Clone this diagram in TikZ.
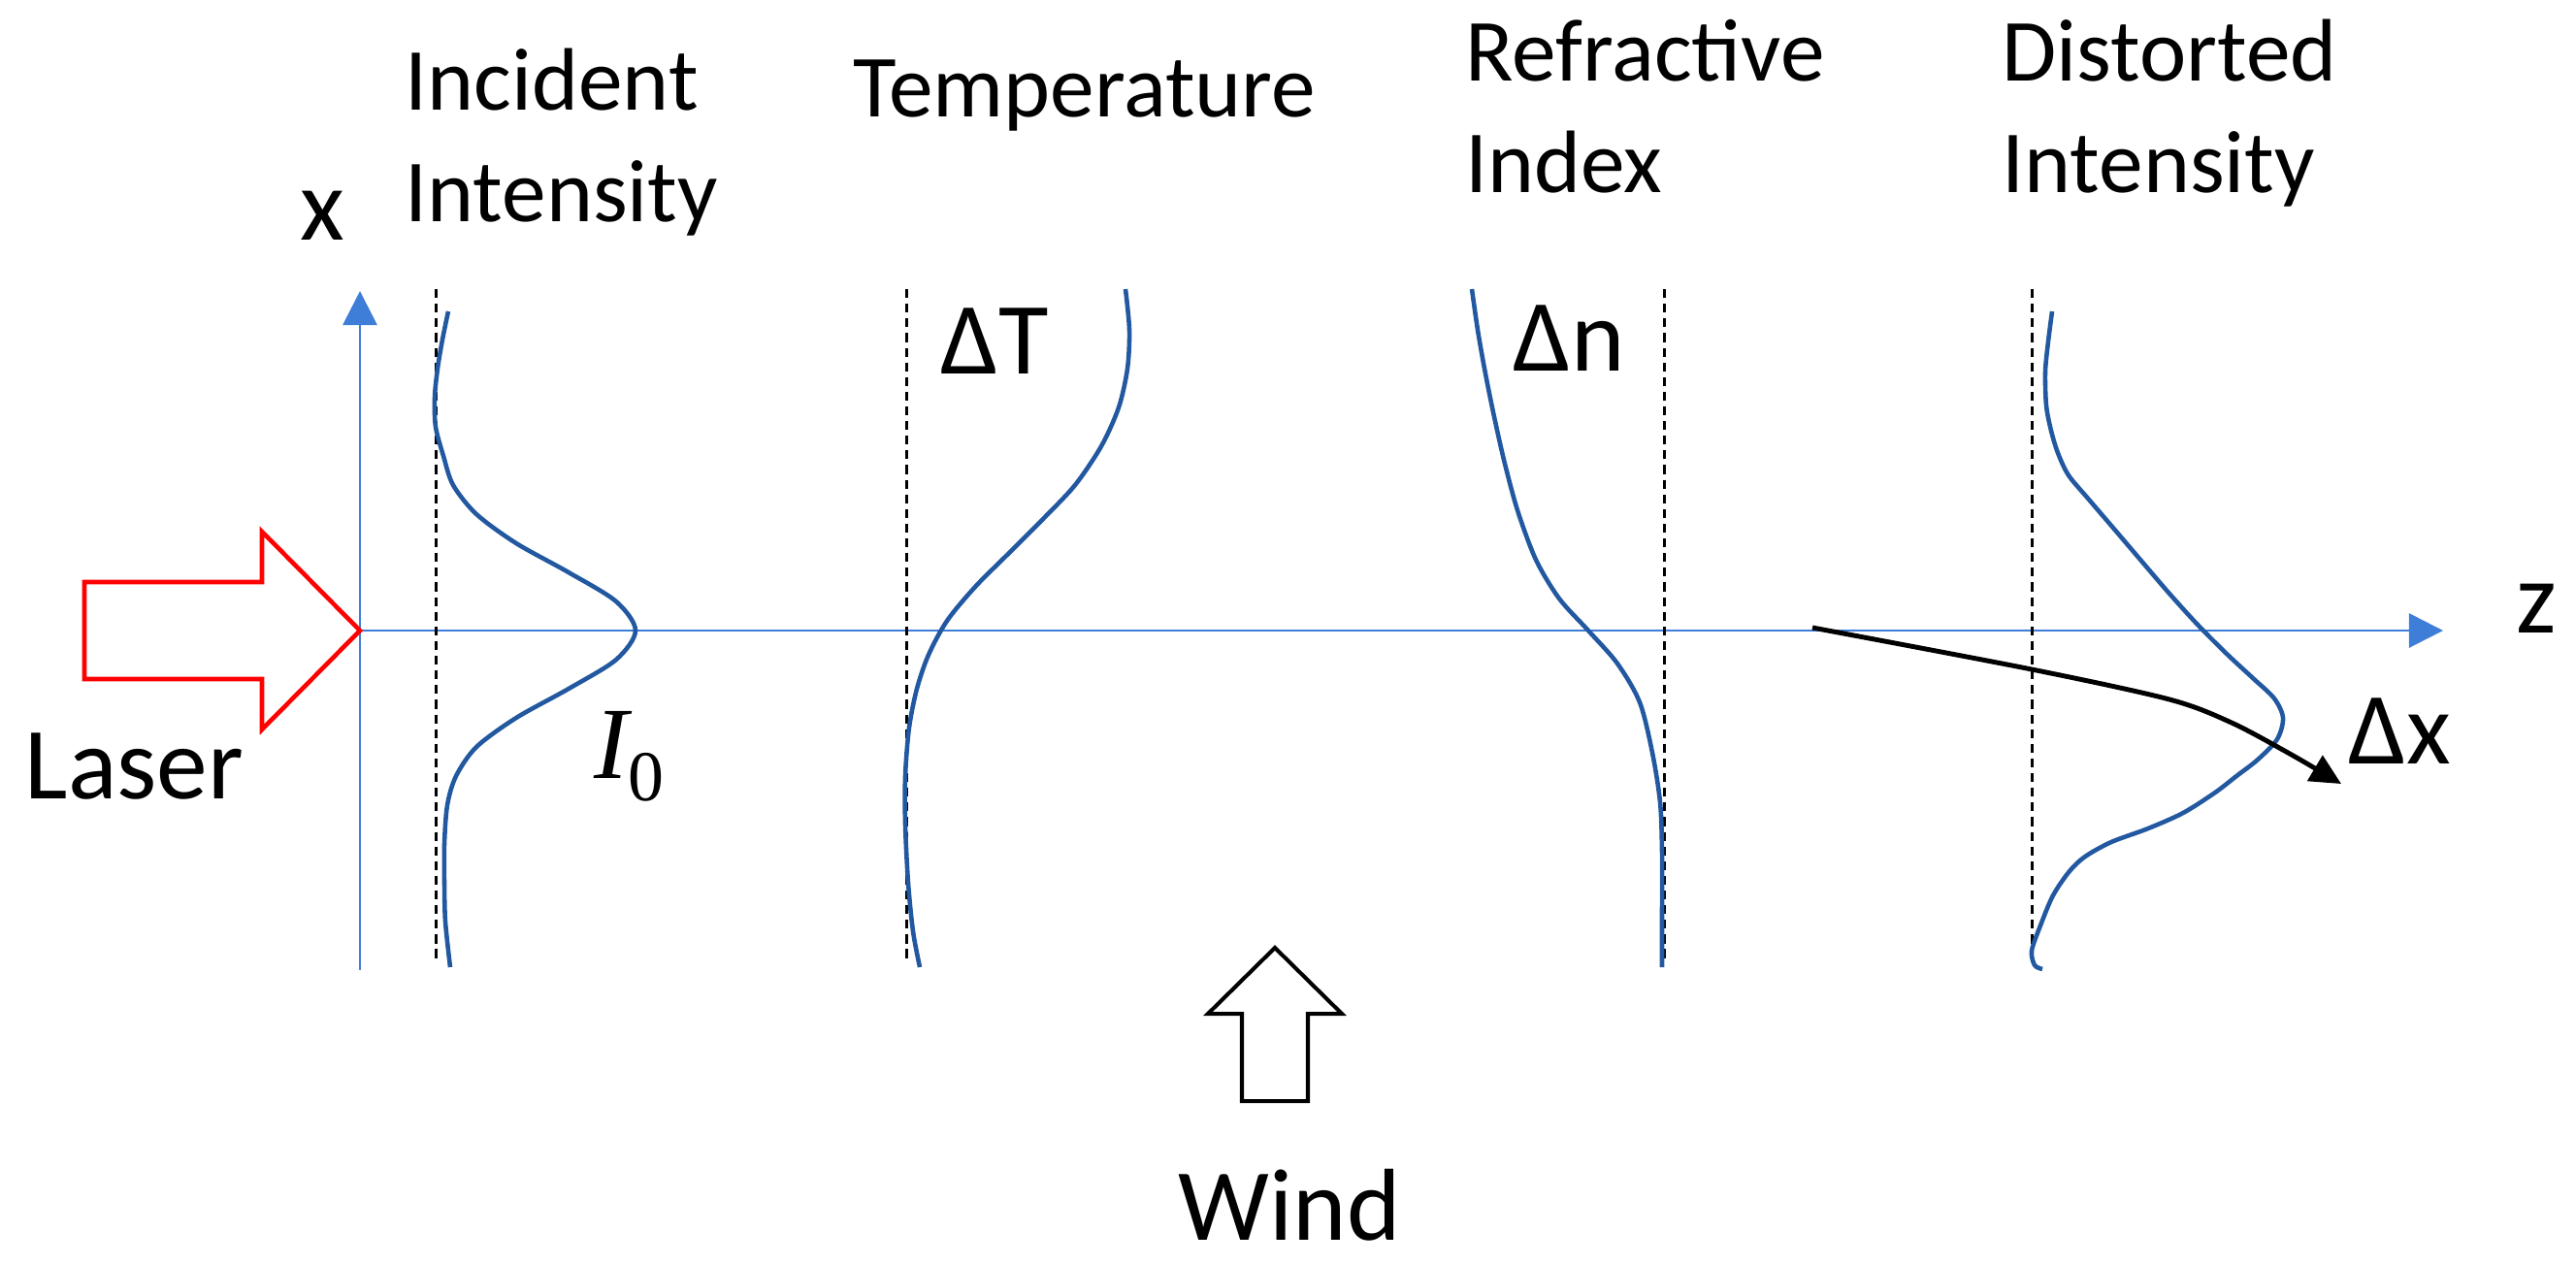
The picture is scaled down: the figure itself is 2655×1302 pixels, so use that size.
\documentclass[tikz,border=0pt]{standalone}
\usepackage{fontspec}
\setmainfont{Carlito}
\newfontfamily\symserif{Liberation Serif}
\usepackage{tikz}
\usetikzlibrary{arrows.meta}

\definecolor{axisblue}{RGB}{62,126,216}
\definecolor{curveblue}{RGB}{34,88,160}

\tikzset{
  axisline/.style={axisblue, line width=0.8pt, -{Triangle[length=10pt,width=10pt]}},
  profile/.style={curveblue, line width=1.3pt},
  guide/.style={black, line width=0.85pt, dash pattern=on 2.6pt off 1.7pt},
  bigarrow/.style={line width=1.3pt, line join=miter},
  heading/.style={font=\fontsize{26}{32.7}\selectfont, anchor=base west, inner sep=0pt, align=left},
  sym/.style={font=\fontsize{30}{36}\selectfont, anchor=base west, inner sep=0pt}
}

\begin{document}
\begin{tikzpicture}[x=0.01cm,y=-0.01cm]

\useasboundingbox (0,0) rectangle (2655,1302);

\coordinate (O) at (371,650);
\coordinate (xtip) at (371,300);
\coordinate (xfoot) at (371,1000);
\coordinate (ztip) at (2518,650);

\draw [axisline] (xfoot) -- (xtip);
\draw [axisline] (O) -- (ztip);
\node [sym] (xlab) at (309,247) {x};
\node [sym] (zlab) at (2593,652) {z};

\node [heading] (incident) at (417,228) {Incident\\Intensity};
\node [heading] (temperature) at (879,120) {Temperature};
\node [heading] (refractive) at (1510,198) {Refractive\\Index};
\node [heading] (distorted) at (2063,198) {Distorted\\Intensity};

\foreach \gx in {449,934,1715,2094}
  \draw [guide] (\gx,298) -- (\gx,992);

\draw [red, bigarrow] (87,600) -- (270,600) -- (270,548) -- (O) -- (270,752) -- (270,700) -- (87,700) -- cycle;
\node [sym] (laser) at (25,823) {Laser};

\draw [profile] plot [smooth] coordinates {(462,321) (456,350) (451,380) (448,410) (449,440) (457,470) (467,500) (491,530) (532,560) (586,590) (635,620) (655,650) (635,680) (586,710) (532,740) (491,770) (470,800) (461,830) (458,870) (458,910) (459,950) (464,997)};
\node [sym] (izero) at (612,802) {\symserif\itshape I\raisebox{-0.22em}{\upshape\fontsize{21}{24}\selectfont 0}};

\draw [profile] plot [smooth] coordinates {(1160,298) (1164,340) (1162,380) (1153,420) (1135,460) (1108,500) (1075,535) (1040,570) (1005,605) (976,640) (957,675) (945,710) (937,750) (933,800) (933,850) (936,910) (941,960) (948,997)};
\node [sym] (dT) at (969,385) {ΔT};

\draw [profile] plot [smooth] coordinates {(1517,298) (1523,340) (1530,380) (1539,425) (1550,474) (1564,526) (1583,577) (1607,617) (1637,650) (1667,684) (1690,724) (1703,776) (1711,827) (1713,878) (1713,940) (1713,997)};
\node [sym] (dn) at (1559,382) {Δn};

\draw [profile] plot [smooth] coordinates {(2115,321) (2111,352) (2108,383) (2109,418) (2114,444) (2121,467) (2132,490) (2153,515) (2177,543) (2206,577) (2236,612) (2266,645) (2296,675) (2323,700) (2344,720) (2353,740) (2347,762) (2327,783) (2305,800) (2283,817) (2250,838) (2214,854) (2176,868) (2149,883) (2133,898) (2116,923) (2103,954) (2094,980) (2097,995) (2105,999)};

\draw [line width=1.4pt, -{Triangle[length=9pt,width=8.5pt]}] plot [smooth] coordinates {(1868,647) (2094,690) (2236,721) (2300,745) (2360,777) (2413,808)};
\node [sym] (dx) at (2420,787) {Δx};

\draw [bigarrow, line width=1.15pt] (1280,1135) -- (1280,1045) -- (1245,1045) -- (1314,977) -- (1383,1045) -- (1348,1045) -- (1348,1135) -- cycle;
\node [sym] (wind) at (1214,1278) {Wind};

\end{tikzpicture}
\end{document}
